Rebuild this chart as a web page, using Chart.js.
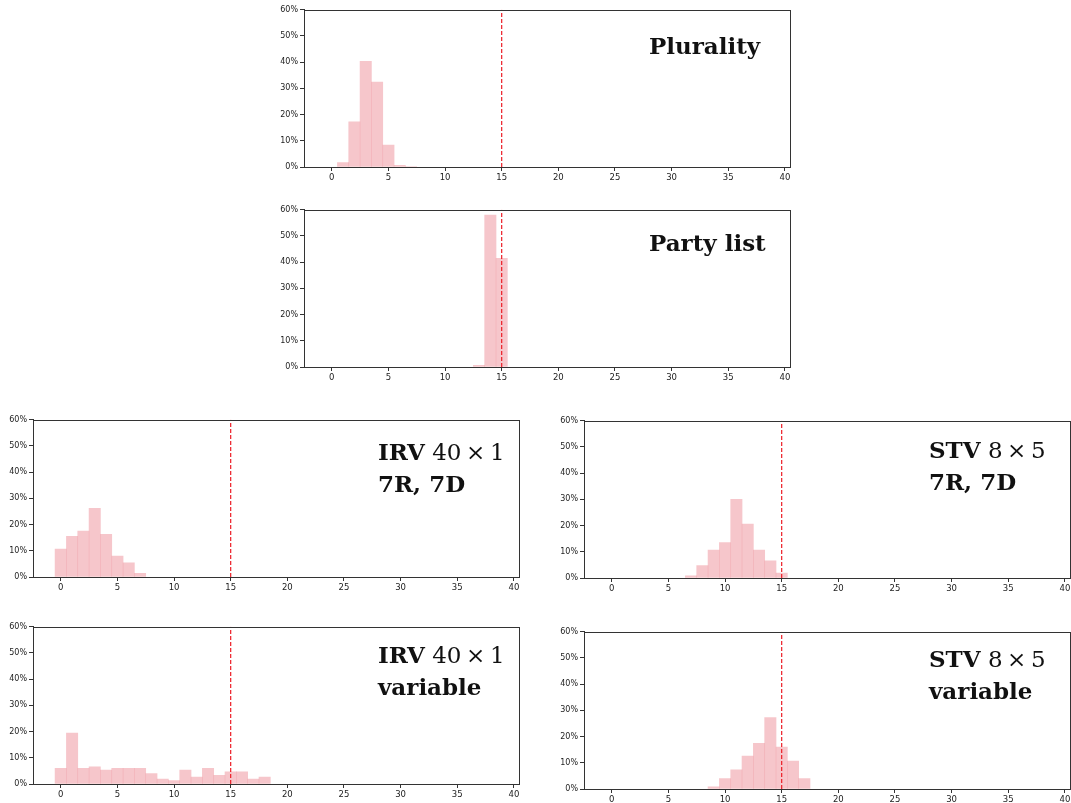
<!DOCTYPE html>
<html lang="en">
<head>
<meta charset="UTF-8">
<title>Seat share histograms</title>
<script src="https://cdn.jsdelivr.net/npm/chart.js"></script>
<style>
    html, body { margin: 0; padding: 0; background: #fff; overflow: hidden; }
    body { width: 1071px; height: 803px; position: relative; }
    .panel { position: absolute; }
</style>
</head>
<body>
<div class="panel" style="left:274px; top:3px;"><canvas id="plurality" width="521" height="184"></canvas></div>
<div class="panel" style="left:274px; top:203px;"><canvas id="partyList" width="521" height="184"></canvas></div>
<div class="panel" style="left:3px; top:413px;"><canvas id="irvFixed" width="521" height="184"></canvas></div>
<div class="panel" style="left:554px; top:414px;"><canvas id="stvFixed" width="521" height="184"></canvas></div>
<div class="panel" style="left:3px; top:620px;"><canvas id="irvVariable" width="521" height="184"></canvas></div>
<div class="panel" style="left:554px; top:625px;"><canvas id="stvVariable" width="521" height="184"></canvas></div>

<script>
    // Histogram bins (seat counts) and share of runs in each bin, in percent
    const pluralityBins = [1, 2, 3, 4, 5, 6, 7];
    const pluralityShare = [1.7, 17.2, 40.3, 32.4, 8.4, 0.6, 0.2];

    const partyListBins = [13, 14, 15];
    const partyListShare = [0.6, 58.0, 41.5];

    const irvFixedBins = [0, 1, 2, 3, 4, 5, 6, 7];
    const irvFixedShare = [10.7, 15.5, 17.5, 26.2, 16.3, 8.0, 5.4, 1.4];

    const stvFixedBins = [7, 8, 9, 10, 11, 12, 13, 14, 15];
    const stvFixedShare = [0.8, 4.7, 10.7, 13.5, 30.0, 20.6, 10.7, 6.6, 1.9];

    const irvVariableBins = [0, 1, 2, 3, 4, 5, 6, 7, 8, 9, 10, 11, 12, 13, 14, 15, 16, 17, 18];
    const irvVariableShare = [6.0, 19.4, 6.0, 6.6, 5.3, 6.0, 6.0, 6.0, 4.0, 1.9, 1.3, 5.3, 2.6, 6.0, 3.3, 4.6, 4.6, 1.9, 2.6];

    const stvVariableBins = [9, 10, 11, 12, 13, 14, 15, 16, 17];
    const stvVariableShare = [0.8, 4.0, 7.3, 12.6, 17.4, 27.3, 16.0, 10.7, 4.0];

    // Axis ticks and the proportional-share marker
    const xTicks = [0, 5, 10, 15, 20, 25, 30, 35, 40];
    const yTicks = [0, 10, 20, 30, 40, 50, 60];
    const fairShare = 15;

    const BAR_FILL = 'rgba(240, 160, 168, 0.6)';
    const AXIS_COLOR = '#333';

    // frame around the plot area + the bold label in the upper right
    const panelDecor = {
        id: 'panelDecor',
        afterDraw(chart, args, opts) {
            const { ctx, chartArea: a } = chart;
            ctx.save();
            ctx.strokeStyle = AXIS_COLOR;
            ctx.lineWidth = 1;
            ctx.strokeRect(Math.round(a.left) + 0.5, Math.round(a.top) + 0.5,
                Math.round(a.right - a.left), Math.round(a.bottom - a.top));
            ctx.fillStyle = '#111';
            ctx.textBaseline = 'alphabetic';
            (opts.lines || []).forEach((line, i) => {
                let x = a.left + opts.dx;
                const y = a.top + opts.dy + i * 32;
                line.forEach(part => {
                    ctx.font = (part.bold ? 'bold ' : '') + '23px "DejaVu Serif"';
                    ctx.fillText(part.text, x, y);
                    x += ctx.measureText(part.text).width;
                });
            });
            ctx.restore();
        }
    };

    function makeHistogram(id, bins, share, lines, dy) {
        const ctx = document.getElementById(id).getContext('2d');
        return new Chart(ctx, {
            data: {
                datasets: [
                    {
                        type: 'line',
                        data: [{ x: fairShare, y: 0 }, { x: fairShare, y: 60 }],
                        borderColor: '#ec1c24',
                        borderWidth: 1.2,
                        borderDash: [4, 2],
                        pointRadius: 0,
                        order: 0
                    },
                    {
                        type: 'bar',
                        data: bins.map((b, i) => ({ x: b, y: share[i] })),
                        backgroundColor: BAR_FILL,
                        borderWidth: 0,
                        barPercentage: 1,
                        categoryPercentage: 1,
                        order: 1
                    }
                ]
            },
            options: {
                responsive: false,
                animation: false,
                events: [],
                layout: { padding: { top: 5, right: 5, left: 0, bottom: 0 } },
                plugins: {
                    legend: { display: false },
                    tooltip: { enabled: false },
                    panelDecor: { lines: lines, dx: 345, dy: dy }
                },
                scales: {
                    x: {
                        type: 'linear',
                        offset: false,
                        min: -2.45,
                        max: 40.45,
                        afterBuildTicks: s => { s.ticks = xTicks.map(v => ({ value: v })); },
                        afterFit: s => { s.height = 20; },
                        grid: { offset: false, drawOnChartArea: false, drawTicks: true, tickLength: 4, color: AXIS_COLOR },
                        border: { color: AXIS_COLOR },
                        ticks: {
                            font: { family: 'DejaVu Sans', size: 8.5 },
                            color: '#222',
                            padding: 2,
                            maxRotation: 0,
                            autoSkip: false
                        }
                    },
                    y: {
                        min: 0,
                        max: 60,
                        afterBuildTicks: s => { s.ticks = yTicks.map(v => ({ value: v })); },
                        afterFit: s => { s.width = 30; },
                        grid: { drawOnChartArea: false, drawTicks: true, tickLength: 4, color: AXIS_COLOR },
                        border: { color: AXIS_COLOR },
                        ticks: {
                            font: { family: 'DejaVu Sans', size: 8 },
                            color: '#222',
                            padding: 2,
                            callback: v => v + '%'
                        }
                    }
                }
            },
            plugins: [panelDecor]
        });
    }

    const B = t => ({ text: t, bold: true });
    const R = t => ({ text: t, bold: false });

    makeHistogram('plurality', pluralityBins, pluralityShare, [[B('Plurality')]], 44);
    makeHistogram('partyList', partyListBins, partyListShare, [[B('Party list')]], 41);
    makeHistogram('irvFixed', irvFixedBins, irvFixedShare, [[B('IRV'), R(' 40\u2009×\u20091')], [B('7R, 7D')]], 40);
    makeHistogram('stvFixed', stvFixedBins, stvFixedShare, [[B('STV'), R(' 8\u2009×\u20095')], [B('7R, 7D')]], 37);
    makeHistogram('irvVariable', irvVariableBins, irvVariableShare, [[B('IRV'), R(' 40\u2009×\u20091')], [B('variable')]], 36);
    makeHistogram('stvVariable', stvVariableBins, stvVariableShare, [[B('STV'), R(' 8\u2009×\u20095')], [B('variable')]], 35);
</script>
</body>
</html>
